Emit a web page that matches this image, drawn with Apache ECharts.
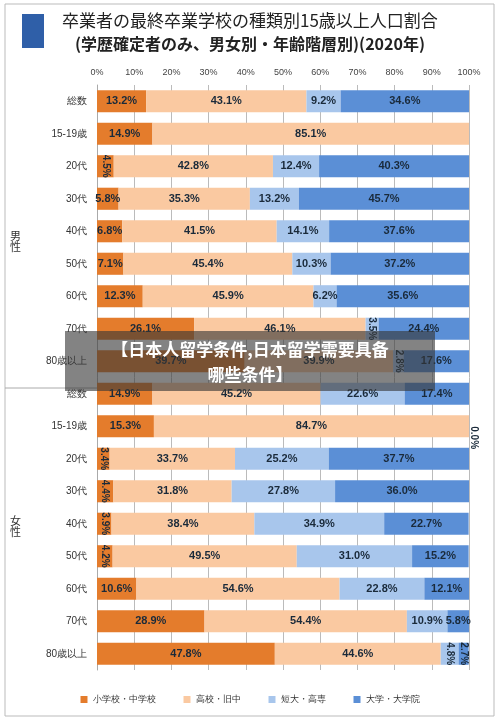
<!DOCTYPE html><html><head><meta charset="utf-8"><script src="https://cdn.jsdelivr.net/npm/echarts@6/dist/echarts.min.js"></script>
<style>html,body{margin:0;background:#fff}#c{width:500px;height:723px}</style></head><body><div id="c"></div><script>
const categories=['総数','15-19歳','20代','30代','40代','50代','60代','70代','80歳以上','総数','15-19歳','20代','30代','40代','50代','60代','70代','80歳以上'];
const seriesNames=['小学校・中学校','高校・旧中','短大・高専','大学・大学院'];
const elementary=[13.2,14.9,4.5,5.8,6.8,7.1,12.3,26.1,39.7,14.9,15.3,3.4,4.4,3.9,4.2,10.6,28.9,47.8];
const highschool=[43.1,85.1,42.8,35.3,41.5,45.4,45.9,46.1,39.9,45.2,84.7,33.7,31.8,38.4,49.5,54.6,54.4,44.6];
const junior=[9.2,0,12.4,13.2,14.1,10.3,6.2,3.5,2.8,22.6,0,25.2,27.8,34.9,31.0,22.8,10.9,4.8];
const university=[34.6,0,40.3,45.7,37.6,37.2,35.6,24.4,17.6,17.4,0.0,37.7,36.0,22.7,15.2,12.1,5.8,2.7];
const showZero=[[],[],[],[10]];
const colors=['#e47c2c','#fac9a1','#a8c6ec','#5b8fd6'];
const vals=[elementary,highschool,junior,university];
const series=vals.map((arr,si)=>({name:seriesNames[si],type:'bar',stack:'s',barWidth:'68%',itemStyle:{color:colors[si]},
 data:arr.map((v,i)=>{const lbl={show:v>0||showZero[si].includes(i),formatter:v.toFixed(1)+'%',color:'#1a2a3a',fontWeight:'bold',fontSize:11};
  if(v<5){lbl.rotate=-90;lbl.position=v===0?'right':'inside';lbl.fontSize=10;}
  return {value:v,label:lbl};}),
 label:{position:'inside'}}));
const chart=echarts.init(document.getElementById('c'));
chart.setOption({animation:false,
 grid:{left:97,right:31,top:85,bottom:53},
 legend:{bottom:14,left:'center',itemWidth:7,itemHeight:7,icon:'rect',itemGap:28,textStyle:{fontSize:9,color:'#333'},data:seriesNames},
 xAxis:{type:'value',position:'top',min:0,max:100,interval:10,axisLabel:{formatter:'{value}%',fontSize:9,color:'#444'},splitLine:{lineStyle:{color:'#bbb'}},axisLine:{show:false}},
 yAxis:{type:'category',inverse:true,data:categories,axisLabel:{fontSize:10,color:'#333',margin:10},axisTick:{length:67,lineStyle:{color:'#aaa'}},axisLine:{lineStyle:{color:'#aaa'}}},
 series,
 graphic:[
  {type:'rect',shape:{x:5,y:4,width:489,height:712},style:{fill:'none',stroke:'#bbb',lineWidth:1}},
  {type:'text',left:62,top:12,style:{text:'卒業者の最終卒業学校の種類別15歳以上人口割合',font:'17px "Noto Sans CJK JP"',fill:'#222'}},
  {type:'text',left:75,top:36,style:{text:'(学歴確定者のみ、男女別・年齢階層別)(2020年)',font:'bold 16px "Noto Sans CJK JP"',fill:'#222'}},
  {type:'rect',shape:{x:22,y:14,width:22,height:34},style:{fill:'#2f5fa8'}},
  {type:'line',shape:{x1:5,y1:388,x2:97,y2:388},style:{stroke:'#aaa'}},
  {type:'text',left:10,top:230,style:{text:'男\n性',font:'11px "Noto Sans CJK JP"',fill:'#333'}},
  {type:'text',left:10,top:515,style:{text:'女\n性',font:'11px "Noto Sans CJK JP"',fill:'#333'}},
  {type:'rect',z:100,shape:{x:65,y:331,width:370,height:60},style:{fill:'rgba(55,55,55,0.62)'}},
  {type:'text',z:101,x:250,y:337,style:{text:'【日本人留学条件,日本留学需要具备\n哪些条件】',align:'center',font:'bold 17px "Noto Sans CJK SC"',lineHeight:25,fill:'#fff'}}
 ]});
</script></body></html>
